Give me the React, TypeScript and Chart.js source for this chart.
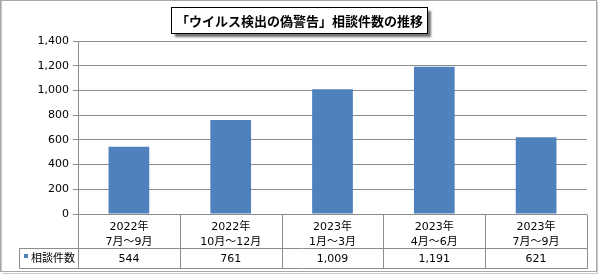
import React, { useEffect, useRef } from 'react';
import { Chart, registerables } from 'chart.js';

Chart.register(...registerables);

const TITLE = '「ウイルス検出の偽警告」相談件数の推移';
const YEARS = ['2022年', '2022年', '2023年', '2023年', '2023年'];
const PERIODS = ['7月～9月', '10月～12月', '1月～3月', '4月～6月', '7月～9月'];
const SERIES_NAME = '相談件数';
const VALUES = [544, 761, 1009, 1191, 621];
const Y_MIN = 0;
const Y_MAX = 1400;
const Y_STEP = 200;

const BAR_COLOR = '#4F81BD';
const LINE_COLOR = '#8c8c8c';
const FONT = '"DejaVu Sans", "Noto Sans CJK JP", sans-serif';

const fmt = (v: number) => v.toLocaleString('en-US');

const decorPlugin = {
  id: 'decor',
  beforeDraw(chart: any) {
    const { ctx, width, height } = chart;
    ctx.save();
    ctx.fillStyle = '#ffffff';
    ctx.fillRect(0, 0, width, height);
    // outer frame
    ctx.strokeStyle = '#a8a8a8';
    ctx.lineWidth = 1;
    ctx.strokeRect(0.5, 0.5, 596, 271);
    ctx.strokeStyle = '#c8c8c8';
    ctx.beginPath();
    ctx.moveTo(1.5, 1);
    ctx.lineTo(1.5, 271);
    ctx.moveTo(597.5, 2);
    ctx.lineTo(597.5, 273.5);
    ctx.lineTo(2, 273.5);
    ctx.stroke();
    ctx.restore();
  },
  afterDraw(chart: any) {
    const { ctx } = chart;
    const x = chart.scales.x;
    const y = chart.scales.y;
    const n = VALUES.length;
    const left = x.left;
    const right = x.right;
    const cw = (right - left) / n;
    const top = Math.round(y.bottom) + 0.5;
    const rowTop = 248.5;
    const rowBot = 268.5;
    const legLeft = 19.5;

    ctx.save();
    // table lines
    ctx.strokeStyle = LINE_COLOR;
    ctx.lineWidth = 1;
    ctx.beginPath();
    ctx.moveTo(legLeft, rowTop);
    ctx.lineTo(Math.round(right) + 0.5, rowTop);
    ctx.moveTo(legLeft, rowBot);
    ctx.lineTo(Math.round(right) + 0.5, rowBot);
    ctx.moveTo(legLeft, rowTop);
    ctx.lineTo(legLeft, rowBot);
    for (let i = 0; i <= n; i++) {
      const xx = Math.round(left + cw * i) + 0.5;
      ctx.moveTo(xx, top);
      ctx.lineTo(xx, rowBot);
    }
    ctx.stroke();

    // legend key
    ctx.fillStyle = BAR_COLOR;
    ctx.fillRect(24, 254, 4, 4);
    ctx.fillStyle = '#000';
    ctx.font = `11px ${FONT}`;
    ctx.textBaseline = 'middle';
    ctx.textAlign = 'left';
    ctx.fillText(SERIES_NAME, 31, 259);

    // values
    ctx.textAlign = 'center';
    for (let i = 0; i < n; i++) {
      const cx = x.getPixelForValue(i);
      ctx.fillText(fmt(VALUES[i]), cx, 259);
    }

    // title box
    const bx = 171.5, by = 7.5, bw = 256, bh = 26;
    ctx.save();
    ctx.shadowColor = 'rgba(0,0,0,0.55)';
    ctx.shadowOffsetX = 3;
    ctx.shadowOffsetY = 3;
    ctx.shadowBlur = 2;
    ctx.fillStyle = '#fff';
    ctx.fillRect(bx, by, bw, bh);
    ctx.restore();
    ctx.strokeStyle = '#000';
    ctx.lineWidth = 1;
    ctx.strokeRect(bx, by, bw, bh);
    ctx.fillStyle = '#000';
    ctx.font = `bold 13px "Noto Sans CJK JP", sans-serif`;
    ctx.textAlign = 'center';
    ctx.textBaseline = 'middle';
    ctx.fillText(TITLE, bx + bw / 2, by + bh / 2 + 1);
    ctx.restore();
  },
};

export default function App() {
  const ref = useRef<HTMLCanvasElement | null>(null);

  useEffect(() => {
    if (!ref.current) return;
    const chart = new Chart(ref.current, {
      type: 'bar',
      data: {
        labels: YEARS.map((yr, i) => [yr, PERIODS[i]]),
        datasets: [
          {
            label: SERIES_NAME,
            data: VALUES,
            backgroundColor: BAR_COLOR,
            borderWidth: 0,
            categoryPercentage: 1,
            barPercentage: 0.4,
          },
        ],
      },
      options: {
        animation: false,
        responsive: false,
        maintainAspectRatio: false,
        locale: 'en-US',
        layout: { padding: { left: 0, right: 13, top: 41, bottom: 6 } },
        plugins: {
          legend: { display: false },
          title: { display: false },
          tooltip: { enabled: false },
        },
        scales: {
          x: {
            offset: true,
            grid: { display: false, drawTicks: false },
            border: { display: false },
            ticks: {
              color: '#000',
              font: { family: FONT, size: 11, lineHeight: 1.36 },
              padding: 6,
              maxRotation: 0,
              autoSkip: false,
            },
            afterFit: (s: any) => {
              s.height = 54;
            },
          },
          y: {
            min: Y_MIN,
            max: Y_MAX,
            grid: { color: LINE_COLOR, tickLength: 5 },
            border: { color: LINE_COLOR },
            ticks: {
              stepSize: Y_STEP,
              color: '#000',
              font: { family: FONT, size: 11 },
              padding: 4,
              callback: (v: any) => fmt(Number(v)),
            },
            afterFit: (s: any) => {
              s.width = 78;
            },
          },
        },
      },
      plugins: [decorPlugin],
    });
    return () => chart.destroy();
  }, []);

  return (
    <div style={{ position: 'absolute', left: 0, top: 0, width: 600, height: 274 }}>
      <canvas ref={ref} width={600} height={274} style={{ width: 600, height: 274, display: 'block' }} />
    </div>
  );
}
